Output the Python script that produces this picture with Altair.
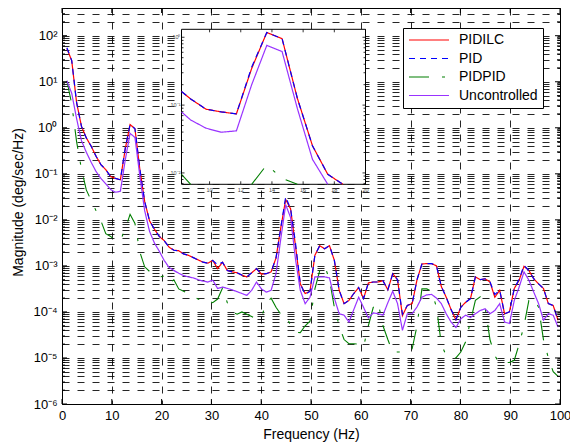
import altair as alt
import pandas as pd

# frequency bins (Hz)
freq = [0.98, 1.95, 2.93, 3.91, 4.88, 5.86, 6.84, 7.81, 8.79, 9.77,
        10.74, 11.72, 12.70, 13.67, 14.65, 15.63, 16.60, 17.58, 18.55, 19.53,
        20.51, 21.48, 22.46, 23.44, 24.41, 25.39, 26.37, 27.34, 28.32, 29.30,
        30.27, 31.25, 32.23, 33.20, 34.18, 35.16, 36.13, 37.11, 38.09, 39.06,
        40.04, 41.02, 41.99, 42.97, 43.95, 44.92, 45.90, 46.88, 47.85, 48.83,
        49.80, 50.78, 51.76, 52.73, 53.71, 54.69, 55.66, 56.64, 57.62, 58.59,
        59.57, 60.55, 61.52, 62.50, 63.48, 64.45, 65.43, 66.41, 67.38, 68.36,
        69.34, 70.31, 71.29, 72.27, 73.24, 74.22, 75.20, 76.17, 77.15, 78.13,
        79.10, 80.08, 81.05, 82.03, 83.01, 83.98, 84.96, 85.94, 86.91, 87.89,
        88.87, 89.84, 90.82, 91.80, 92.77, 93.75, 94.73, 95.70, 96.68, 97.66,
        98.63, 99.61]

# magnitudes as log10 values
pidilc_log10 = [1.72, 1.46, 0.55, 0.03, -0.22, -0.40, -0.62, -0.80, -0.91, -1.06,
                -1.10, -1.13, -0.46, 0.07, -0.02, -0.90, -1.60, -2.02, -2.20, -2.36,
                -2.45, -2.59, -2.66, -2.67, -2.74, -2.77, -2.82, -2.87, -2.92, -2.94,
                -2.88, -3.06, -2.92, -3.10, -3.13, -3.15, -3.20, -3.24, -3.15, -3.06,
                -3.18, -3.17, -3.13, -2.83, -2.16, -1.56, -1.76, -2.56, -3.39, -3.60,
                -3.55, -2.77, -2.56, -2.63, -2.56, -2.88, -3.53, -3.82, -3.75, -3.60,
                -3.47, -3.71, -3.37, -3.35, -3.35, -3.32, -3.52, -3.17, -3.30, -4.08,
                -3.86, -3.82, -3.30, -2.96, -2.95, -2.95, -3.00, -3.45, -3.68, -3.95,
                -4.17, -3.90, -3.79, -3.71, -3.24, -3.30, -3.28, -3.35, -3.68, -3.53,
                -4.04, -4.00, -3.49, -3.31, -3.01, -3.10, -3.28, -3.39, -3.49, -3.82,
                -3.86, -4.18]

pid_log10 = [1.74, 1.46, 0.55, 0.03, -0.22, -0.40, -0.62, -0.80, -0.91, -1.06,
             -1.10, -1.13, -0.44, 0.07, -0.02, -0.90, -1.60, -2.02, -2.20, -2.36,
             -2.45, -2.59, -2.66, -2.67, -2.74, -2.77, -2.82, -2.87, -2.92, -2.94,
             -2.88, -2.98, -2.92, -3.10, -3.13, -3.15, -3.20, -3.24, -3.15, -3.06,
             -3.18, -3.17, -3.13, -2.83, -2.16, -1.50, -1.76, -2.50, -3.39, -3.62,
             -3.55, -2.77, -2.56, -2.63, -2.56, -2.88, -3.53, -3.82, -3.75, -3.60,
             -3.47, -3.71, -3.37, -3.35, -3.35, -3.32, -3.52, -3.17, -3.30, -4.05,
             -3.86, -3.82, -3.30, -2.96, -2.95, -2.95, -3.00, -3.45, -3.68, -3.95,
             -4.17, -3.90, -3.79, -3.71, -3.24, -3.30, -3.28, -3.35, -3.62, -3.53,
             -4.04, -4.00, -3.49, -3.29, -2.99, -3.10, -3.28, -3.39, -3.49, -3.82,
             -3.86, -4.18]

pidpid_log10 = [1.02, 0.52, -0.30, -0.90, -1.35, -1.58, -1.80, -2.02, -2.30, -2.36,
                -2.45, -2.45, -2.20, -1.88, -2.08, -2.70, -3.02, -3.12, -3.20, -3.24,
                -3.22, -3.38, -3.30, -3.50, -3.55, -3.60, -3.66, -3.72, -3.78, -3.75,
                -3.80, -3.72, -3.48, -3.80, -4.00, -4.05, -4.00, -4.05, -4.10, -4.15,
                -4.12, -3.80, -3.70, -3.90, -4.05, -4.05, -4.30, -4.44, -4.45, -4.30,
                -4.20, -3.50, -3.10, -2.99, -3.30, -3.90, -4.30, -4.60, -4.69, -4.69,
                -4.70, -4.76, -4.30, -3.90, -3.80, -4.30, -4.60, -4.88, -4.87, -4.87,
                -4.87, -4.80, -4.30, -3.50, -3.50, -3.55, -3.90, -4.70, -4.95, -5.00,
                -5.00, -4.87, -4.65, -4.20, -3.75, -3.67, -3.90, -4.60, -4.95, -5.12,
                -5.10, -5.10, -5.05, -4.70, -4.30, -3.75, -3.70, -3.90, -4.60, -5.00,
                -5.30, -5.40]

uncontrolled_log10 = [1.02, 0.75, 0.20, -0.28, -0.53, -0.75, -0.95, -1.10, -1.22, -1.34,
                      -1.40, -1.38, -0.70, -0.12, -0.21, -1.05, -1.80, -2.25, -2.50, -2.68,
                      -2.88, -3.03, -3.10, -3.16, -3.21, -3.24, -3.26, -3.30, -3.33, -3.35,
                      -3.31, -3.49, -3.46, -3.49, -3.52, -3.56, -3.60, -3.64, -3.53, -3.35,
                      -3.50, -3.57, -3.53, -3.17, -2.40, -1.67, -1.95, -2.85, -3.53, -3.82,
                      -3.68, -3.24, -3.24, -3.24, -3.26, -3.70, -4.04, -4.07, -4.22, -3.95,
                      -3.68, -3.90, -4.13, -4.02, -4.04, -4.07, -3.80, -3.55, -3.82, -4.40,
                      -4.04, -4.04, -3.89, -3.68, -3.63, -3.62, -3.70, -3.82, -4.04, -4.22,
                      -4.34, -4.15, -4.07, -4.12, -4.04, -3.97, -3.93, -4.04, -3.97, -3.82,
                      -4.22, -4.25, -3.75, -3.46, -3.13, -3.31, -3.57, -3.82, -4.18, -4.04,
                      -4.07, -4.33]

series_names = ["PIDILC", "PID", "PIDPID", "Uncontrolled"]
series_colors = ["#ff0000", "#0000ff", "#007f00", "#9933ff"]
series_dashes = [[1, 0], [6, 5], [20, 13, 3, 13], [1, 0]]

x_ticks = [0, 10, 20, 30, 40, 50, 60, 70, 80, 90, 100]
y_decades = [1e-6, 1e-5, 1e-4, 1e-3, 1e-2, 1e-1, 1, 10, 100]
y_grid = [round(m * d, 12) for d in y_decades for m in range(1, 10)]
y_grid = [v for v in y_grid if v <= 300]
y_minor = [v for v in y_grid if v not in y_decades]
y_domain = [1e-6, 400]

inset_xlim = [8.2, 20]
inset_ylim = [0.0068, 1.31]
inset_xticks = [10, 12, 14, 16, 18, 20]
inset_yticks = [1, 0.1, 0.01]
inset_ylabels = ["10\u2070", "10\u207b\u00b9", "10\u207b\u00b2"]
inset_yminor = [round(m * d, 12) for d in [0.001, 0.01, 0.1, 1] for m in range(2, 10)]
inset_yminor = [v for v in inset_yminor if inset_ylim[0] < v < inset_ylim[1]]
inset_freq_range = [7.5, 19.0]

# ---- layout (pixels) ----
W, H = 498, 396
inset_x_px = [119.5, 303.5]
inset_y_px = [176.3, 21.3]

all_series = [pidilc_log10, pid_log10, pidpid_log10, uncontrolled_log10]
rows = []
for name, vals in zip(series_names, all_series):
    for f, v in zip(freq, vals):
        rows.append({"series": name, "freq": f, "mag": 10 ** v})
df = pd.DataFrame(rows)

# inset table: keep points inside the inset window, plus the neighbours
# that make a line leave / enter it (drawn clamped at the edge)
inset_rows = []
for name, vals in zip(series_names, all_series):
    pts = [(f, 10 ** v) for f, v in zip(freq, vals)
           if inset_freq_range[0] <= f <= inset_freq_range[1]]
    inside = [inset_ylim[0] <= m <= inset_ylim[1] for _, m in pts]
    for i, (f, m) in enumerate(pts):
        keep = inside[i] or (i > 0 and inside[i - 1]) or (i < len(pts) - 1 and inside[i + 1])
        inset_rows.append({"series": name, "freq": f, "mag": m if keep else None})
idf = pd.DataFrame(inset_rows)

legend = alt.Legend(title=None, orient="none", legendX=341, legendY=20,
                    symbolType="stroke", symbolSize=1600, symbolStrokeWidth=1.2,
                    clipHeight=14, rowPadding=4.5, padding=5, labelOffset=9,
                    labelFontSize=14, labelFont="Liberation Sans", labelColor="black",
                    strokeColor="black", fillColor="white", cornerRadius=0)
color = alt.Color("series:N", scale=alt.Scale(domain=series_names, range=series_colors), legend=legend)
dash = alt.StrokeDash("series:N", scale=alt.Scale(domain=series_names, range=series_dashes), legend=legend)

sup_expr = ("abs(log(datum.value)/LN10 - round(log(datum.value)/LN10)) < 0.01 ? "
            "'10' + ['\u207b\u2076','\u207b\u2075','\u207b\u2074','\u207b\u00b3','\u207b\u00b2','\u207b\u00b9','\u2070','\u00b9','\u00b2']"
            "[round(log(datum.value)/LN10) + 6] : ''")

XS = alt.Scale(domain=[0, 100], nice=False, zero=False)
YS = alt.Scale(type="log", domain=y_domain, nice=False)
X = alt.X("freq:Q", scale=XS,
          axis=alt.Axis(values=x_ticks, title="Frequency (Hz)", grid=True, gridDash=[7, 7],
                        gridColor="black", gridOpacity=0.85, domain=False, ticks=False, tickSize=0,
                        labelPadding=5, labelFontSize=13, labelFlush=False,
                        titleFontSize=14, titleFontWeight="normal",
                        titleX=W / 2, titleY=34, titleBaseline="alphabetic"))
Y = alt.Y("mag:Q", scale=YS,
          axis=alt.Axis(values=y_grid, labelExpr=sup_expr, title="Magnitude (deg/sec/Hz)",
                        grid=True, gridDash=[7, 8], gridColor="black", gridOpacity=0.85,
                        domain=False, ticks=False, tickSize=0, labelPadding=5, labelFontSize=13,
                        labelFlush=False,
                        titleFontSize=14, titleFontWeight="normal", titleX=-44, titleY=194,
                        titleAngle=270, titleAlign="center", titleBaseline="middle"))

widths = {"PIDILC": 1.2, "PID": 1.2, "PIDPID": 1.1, "Uncontrolled": 1.2}


def main_line(name):
    return alt.Chart(df).transform_filter(alt.datum.series == name).mark_line(
        strokeWidth=widths[name], clip=True).encode(x=X, y=Y, color=color, strokeDash=dash)


# inward axis ticks (box on all four sides)
ymaj_df = pd.DataFrame({"mag": y_decades})
ymin_df = pd.DataFrame({"mag": y_minor})
xt_main_df = pd.DataFrame({"freq": x_ticks})
tick_layers = []
for d, ln in [(ymaj_df, 5), (ymin_df, 3)]:
    tick_layers.append(alt.Chart(d).mark_rule(color="black", strokeWidth=1).encode(
        y=Y, x=alt.value(0), x2=alt.value(ln)))
    tick_layers.append(alt.Chart(d).mark_rule(color="black", strokeWidth=1).encode(
        y=Y, x=alt.value(W), x2=alt.value(W - ln)))
tick_layers.append(alt.Chart(xt_main_df).mark_rule(color="black", strokeWidth=1).encode(
    x=X, y=alt.value(H), y2=alt.value(H - 5)))
tick_layers.append(alt.Chart(xt_main_df).mark_rule(color="black", strokeWidth=1).encode(
    x=X, y=alt.value(0), y2=alt.value(5)))

main = alt.layer(*[main_line(n) for n in series_names], *tick_layers)

IXS = alt.Scale(domain=inset_xlim, range=inset_x_px, clamp=True, nice=False, zero=False)
IYS = alt.Scale(type="log", domain=inset_ylim, range=inset_y_px, clamp=True, nice=False)
IX = alt.X("freq:Q", scale=IXS, axis=None)
IY = alt.Y("mag:Q", scale=IYS, axis=None)

box_df = pd.DataFrame({"x0": [inset_xlim[0]], "x1": [inset_xlim[1]],
                       "y0": [inset_ylim[0]], "y1": [inset_ylim[1]]})
box = alt.Chart(box_df).mark_rect(fill="white", stroke="black", strokeWidth=1).encode(
    x=alt.X("x0:Q", scale=IXS, axis=None), x2="x1:Q",
    y=alt.Y("y0:Q", scale=IYS, axis=None), y2="y1:Q")


def inset_line(name):
    return alt.Chart(idf).transform_filter(alt.datum.series == name).mark_line(
        strokeWidth=widths[name], invalid="break-paths-show-domains").encode(
        x=IX, y=IY, color=color, strokeDash=dash)


ixt_df = pd.DataFrame({"freq": inset_xticks, "mag": inset_ylim[0]})
xt = alt.Chart(ixt_df).mark_text(fontSize=5.5, dy=6, color="#444").encode(
    x=IX, y=IY, text="freq:Q")
iyt_df = pd.DataFrame({"mag": inset_yticks, "lab": inset_ylabels, "freq": inset_xlim[0]})
yt = alt.Chart(iyt_df).mark_text(fontSize=5.5, dx=-1, align="right", color="#444").encode(
    x=IX, y=IY, text="lab:N")

inset_ticks = []
iymaj = pd.DataFrame({"mag": inset_yticks})
iymin = pd.DataFrame({"mag": inset_yminor})
for d, ln in [(iymaj, 3), (iymin, 2)]:
    inset_ticks.append(alt.Chart(d).mark_rule(color="black", strokeWidth=0.8).encode(
        y=IY, x=alt.value(inset_x_px[0]), x2=alt.value(inset_x_px[0] + ln)))
    inset_ticks.append(alt.Chart(d).mark_rule(color="black", strokeWidth=0.8).encode(
        y=IY, x=alt.value(inset_x_px[1]), x2=alt.value(inset_x_px[1] - ln)))
ixt_only = pd.DataFrame({"freq": inset_xticks})
inset_ticks.append(alt.Chart(ixt_only).mark_rule(color="black", strokeWidth=0.8).encode(
    x=IX, y=alt.value(inset_y_px[0]), y2=alt.value(inset_y_px[0] - 3)))
inset_ticks.append(alt.Chart(ixt_only).mark_rule(color="black", strokeWidth=0.8).encode(
    x=IX, y=alt.value(inset_y_px[1]), y2=alt.value(inset_y_px[1] + 3)))

inset = alt.layer(box, *[inset_line(n) for n in series_names], *inset_ticks, xt, yt)

chart = alt.layer(main, inset).resolve_scale(x="independent", y="independent").properties(
    width=W, height=H, autosize=alt.AutoSizeParams(type="none"),
    padding={"left": 54, "top": 0, "right": 10, "bottom": 40}
).configure(font="Liberation Sans").configure_view(stroke="black", strokeWidth=1).configure_axis(
    labelColor="black", titleColor="black", labelFont="Liberation Sans", titleFont="Liberation Sans")

chart.save("out.html", embed_options={"renderer": "svg", "actions": False})
